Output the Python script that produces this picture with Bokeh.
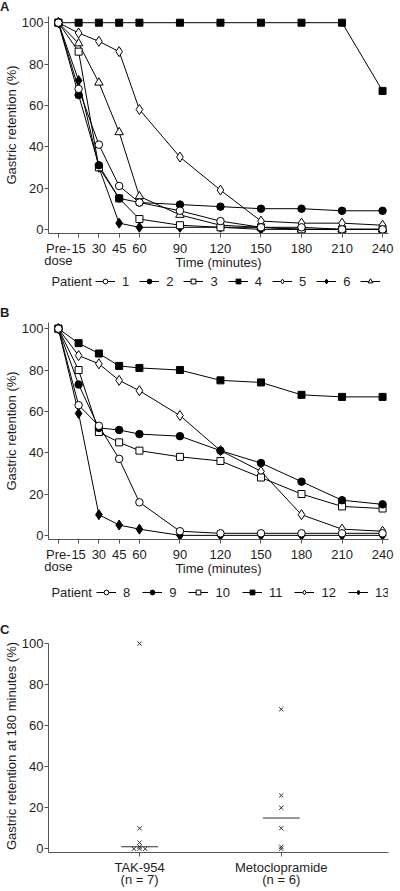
import numpy as np
from bokeh.plotting import figure
from bokeh.layouts import column
from bokeh.models import Range1d, FixedTicker, Legend, LegendItem, Label, Div
from bokeh.embed import file_html
from bokeh.resources import INLINE

# ---------------- data ----------------
times = [0, 15, 30, 45, 60, 90, 120, 150, 180, 210, 240]
time_labels = ["Pre-\ndose", "15", "30", "45", "60", "90", "120", "150", "180", "210", "240"]

# Panel A (TAK-954) – gastric retention (%)
patient_1 = [100, 68, 41, 21, 13, 9, 4, 1, 1, 0, 0]
patient_2 = [100, 65, 31, 15, 13, 12, 11, 10, 10, 9, 9]
patient_3 = [100, 86, 30, 15, 5, 2, 1, 1, 0, 0, 0]
patient_4 = [100, 100, 100, 100, 100, 100, 100, 100, 100, 100, 67]
patient_5 = [100, 95, 91, 86, 58, 35, 19, 4, 3, 3, 2]
patient_6 = [100, 72, 30, 3, 1, 1, 1, 0, 0, 0, 0]
patient_7 = [100, 90, 71, 47, 16, 7, 2, 1, 0, 0, 0]

# Panel B (Metoclopramide) – gastric retention (%)
patient_8 = [100, 63, 53, 37, 16, 2, 1, 1, 1, 1, 1]
patient_9 = [100, 73, 52, 51, 49, 48, 41, 35, 26, 17, 15]
patient_10 = [100, 80, 50, 45, 41, 38, 36, 28, 20, 14, 13]
patient_11 = [100, 93, 88, 82, 81, 80, 75, 74, 68, 67, 67]
patient_12 = [100, 87, 83, 75, 70, 58, 41, 31, 10, 3, 2]
patient_13 = [100, 59, 10, 5, 3, 0, 0, 0, 0, 0, 0]

names_a = ["1", "2", "3", "4", "5", "6", "7"]
names_b = ["8", "9", "10", "11", "12", "13"]
series_a = [patient_1, patient_2, patient_3, patient_4, patient_5, patient_6, patient_7]
series_b = [patient_8, patient_9, patient_10, patient_11, patient_12, patient_13]

groups = ["TAK-954", "Metoclopramide"]

# ---------------- style ----------------
W = 400
FRAME_L = 52          # left edge of the plotting frames (aligned in the column)
FONT = "Liberation Sans"
TXT = "#1e1e1e"
AX = "#555555"
FS = "13px"
NAN = [float("nan")]  # legend proxies carry one invisible sample

OPEN = dict(fill_color="white", line_color="black")
FILLED = dict(fill_color="black", line_color="black")
marker_styles = [
    ("circle", 7.5, OPEN), ("circle", 7.5, FILLED), ("square", 7, OPEN),
    ("square", 7, FILLED), ("diamond", 10, OPEN), ("diamond", 10, FILLED),
    ("triangle", 8.5, OPEN),
]


def style_axes(p):
    for ax in p.axis:
        ax.axis_line_color = AX
        ax.major_tick_line_color = AX
        ax.minor_tick_line_color = None
        ax.major_tick_out = 4
        ax.major_tick_in = 0
        ax.major_label_text_font = FONT
        ax.major_label_text_font_size = FS
        ax.major_label_text_color = TXT
        ax.major_label_text_line_height = 0.85
        ax.axis_label_text_font = FONT
        ax.axis_label_text_font_size = FS
        ax.axis_label_text_font_style = "normal"
        ax.axis_label_text_color = TXT
        ax.major_label_standoff = 3
    p.yaxis.major_label_standoff = 1
    p.yaxis.axis_label_standoff = 0
    p.grid.visible = False
    p.outline_line_color = None


def letter(text):
    return Div(text=text, width=W, height=14, margin=0,
               styles={"font-family": FONT, "font-size": FS, "font-weight": "bold",
                       "line-height": "14px", "color": TXT})


def legend_strip(height, names, y_center, x_word, x_items, spacing):
    """A blank band holding a legend (x data units = page px)."""
    s = figure(width=W, height=height, output_backend="svg", toolbar_location=None,
               title=None, x_range=Range1d(FRAME_L, W), y_range=Range1d(0, height),
               x_axis_location=None, y_axis_location=None,
               min_border_left=0, min_border_right=0, min_border_top=0,
               min_border_bottom=0)
    s.grid.visible = False
    s.outline_line_color = None
    s.add_layout(Label(x=x_word, y=y_center, text="Patient", text_font=FONT,
                       text_font_size=FS, text_color=TXT,
                       text_align="left", text_baseline="middle"))
    items = []
    for i, n in enumerate(names):
        mk, sz, st = marker_styles[i]
        lr = s.line(x=NAN, y=NAN, line_color="black", line_width=1)
        sr = s.scatter(x=NAN, y=NAN, marker=mk, size=sz, line_width=1, **st)
        items.append(LegendItem(label=n, renderers=[lr, sr]))
    leg = Legend(items=items, orientation="horizontal",
                 location=(x_items - FRAME_L, y_center - 7.5),
                 label_text_font=FONT, label_text_font_size=FS, label_text_color=TXT,
                 glyph_width=20, glyph_height=12, label_height=14, label_width=0,
                 label_standoff=7, spacing=spacing, padding=0, margin=0,
                 border_line_color=None, background_fill_alpha=0)
    s.add_layout(leg, "center")
    return s


def time_panel(series, height):
    p = figure(width=W, height=height, output_backend="svg", toolbar_location=None,
               title=None, x_range=Range1d(-7.3, 244.4), y_range=Range1d(-2, 103),
               min_border_left=44, min_border_right=5, min_border_top=2,
               min_border_bottom=0)
    style_axes(p)
    p.xaxis.ticker = FixedTicker(ticks=times)
    p.xaxis.major_label_overrides = {t: lab for t, lab in zip(times, time_labels)}
    p.xaxis.axis_label = "Time (minutes)"
    p.xaxis.axis_label_standoff = -16
    p.yaxis.ticker = FixedTicker(ticks=[0, 20, 40, 60, 80, 100])
    p.yaxis.axis_label = "Gastric retention (%)"
    for s in series:
        p.line(times, s, line_color="black", line_width=1)
    for i in reversed(range(len(series))):
        mk, sz, st = marker_styles[i]
        p.scatter(times, series[i], marker=mk, size=sz, line_width=1, **st)
    return p


divA = letter("A")
pA = time_panel(series_a, 259)
legA = legend_strip(33, names_a, 25, FRAME_L + 3, FRAME_L + 47, 10)
divB = letter("B")
pB = time_panel(series_b, 259)
legB = legend_strip(44, names_b, 31, FRAME_L + 3, FRAME_L + 48, 12)
divC = letter("C")

# ---------------- panel C ----------------
i180 = times.index(180)
tak_180 = [s[i180] for s in series_a]
meto_180 = [s[i180] for s in series_b]
group_values = [tak_180, meto_180]

pC = figure(width=W, height=253, output_backend="svg", toolbar_location=None,
            title=None, x_range=Range1d(0.357, 2.757), y_range=Range1d(-1.8, 102),
            min_border_left=44, min_border_right=12, min_border_top=2, min_border_bottom=0)
style_axes(pC)
pC.yaxis.ticker = FixedTicker(ticks=[0, 20, 40, 60, 80, 100])
pC.yaxis.bounds = (-1.8, 100)
pC.yaxis.axis_label = "Gastric retention at 180 minutes (%)"
pos = [1, 2]
pC.xaxis.ticker = FixedTicker(ticks=pos)
pC.xaxis.major_label_overrides = {
    x: f"{g}\n(n = {len(v)})" for x, g, v in zip(pos, groups, group_values)}

for x, vals in zip(pos, group_values):
    vals = np.asarray(vals, dtype=float)
    xs = np.full(len(vals), float(x))
    for u in np.unique(vals):
        idx = np.where(vals == u)[0]
        if len(idx) > 1:
            xs[idx] = x + (np.arange(len(idx)) - (len(idx) - 1) / 2) * 0.04
    pC.scatter(xs, vals, marker="x", size=6, line_color="#333333", line_width=1)
    med = float(np.median(vals))
    pC.segment(x0=[x - 0.13], x1=[x + 0.13], y0=[med], y1=[med],
               line_color="#333333", line_width=1)

layout = column(divA, pA, legA, divB, pB, legB, divC, pC, spacing=0)
open("out.html", "w").write(file_html(layout, INLINE))
